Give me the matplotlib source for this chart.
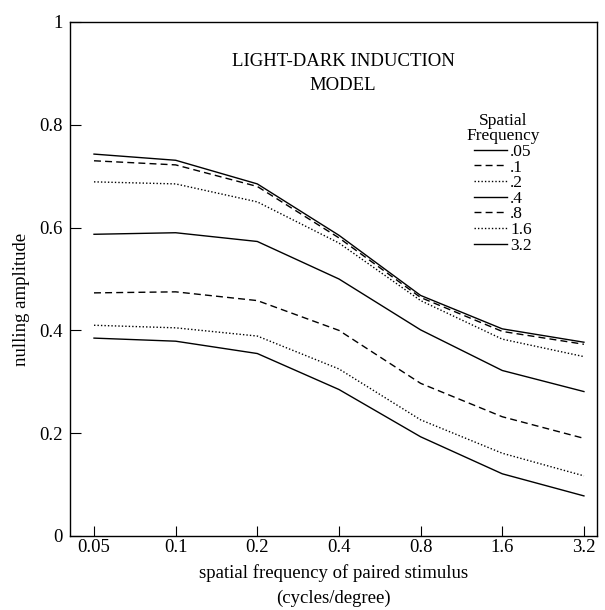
import matplotlib
matplotlib.use("Agg")
import matplotlib.pyplot as plt

plt.rcParams['font.family'] = ['Liberation Serif', 'DejaVu Serif']

freqs = [0.05, 0.1, 0.2, 0.4, 0.8, 1.6, 3.2]
xtick_labels = ['0.05', '0.1', '0.2', '0.4', '0.8', '1.6', '3.2']
yticks = [0, 0.2, 0.4, 0.6, 0.8, 1.0]
ytick_labels = ['0', '0.2', '0.4', '0.6', '0.8', '1']

series_labels = ['.05', '.1', '.2', '.4', '.8', '1.6', '3.2']
s_005 = [0.743, 0.731, 0.685, 0.585, 0.468, 0.403, 0.377]
s_01 = [0.730, 0.722, 0.680, 0.580, 0.464, 0.398, 0.373]
s_02 = [0.689, 0.685, 0.650, 0.570, 0.458, 0.383, 0.349]
s_04 = [0.587, 0.590, 0.573, 0.500, 0.401, 0.322, 0.281]
s_08 = [0.473, 0.475, 0.458, 0.400, 0.297, 0.232, 0.190]
s_16 = [0.410, 0.405, 0.389, 0.325, 0.226, 0.161, 0.117]
s_32 = [0.385, 0.379, 0.355, 0.285, 0.193, 0.121, 0.078]
series = [s_005, s_01, s_02, s_04, s_08, s_16, s_32]

styles = ['-', (0, (5, 3)), (0, (1, 1.5)), '-', (0, (5, 3)), (0, (1, 1.5)), '-']

fig = plt.figure(figsize=(6.05, 6.10), dpi=100)
ax = fig.add_axes([70/605, 1 - 536/610, 527/605, 514/610])

for vals, ls, lab in zip(series, styles, series_labels):
    ax.plot(freqs, vals, color='black', lw=1.0, linestyle=ls, label=lab)

ax.set_xscale('log', base=2)
ax.set_xlim(0.05 * 2 ** -0.294, 3.2 * 2 ** 0.16)
ax.set_ylim(0, 1)
ax.set_xticks(freqs)
ax.set_xticklabels(xtick_labels)
ax.minorticks_off()
ax.set_yticks(yticks)
ax.set_yticklabels(ytick_labels)

ax.tick_params(axis='x', direction='in', length=7, width=0.8, pad=2, labelsize=13.5)
ax.tick_params(axis='y', direction='in', length=8, width=0.8, pad=5, labelsize=13.5)
for sp in ax.spines.values():
    sp.set_linewidth(1.0)

ax.set_xlabel('spatial frequency of paired stimulus\n(cycles/degree)',
              fontsize=13.5, linespacing=1.6, labelpad=6)
ax.set_ylabel('nulling amplitude', fontsize=13.5, labelpad=8)
ax.yaxis.set_label_coords(-0.075, 0.46)

ax.text(0.518, 0.90, 'LIGHT-DARK INDUCTION\nMODEL', transform=ax.transAxes,
        ha='center', va='center', fontsize=13.5, linespacing=1.55)

leg = ax.legend(title='Spatial\nFrequency', loc='upper left',
                bbox_to_anchor=(0.752, 0.822), frameon=False, fontsize=12.5,
                title_fontsize=12.5, handlelength=1.9, handletextpad=0.15,
                labelspacing=-0.03, borderpad=0, borderaxespad=0)
leg.get_title().set_linespacing(0.9)
leg.get_title().set_multialignment('center')

fig.savefig('out.png', dpi=100)
